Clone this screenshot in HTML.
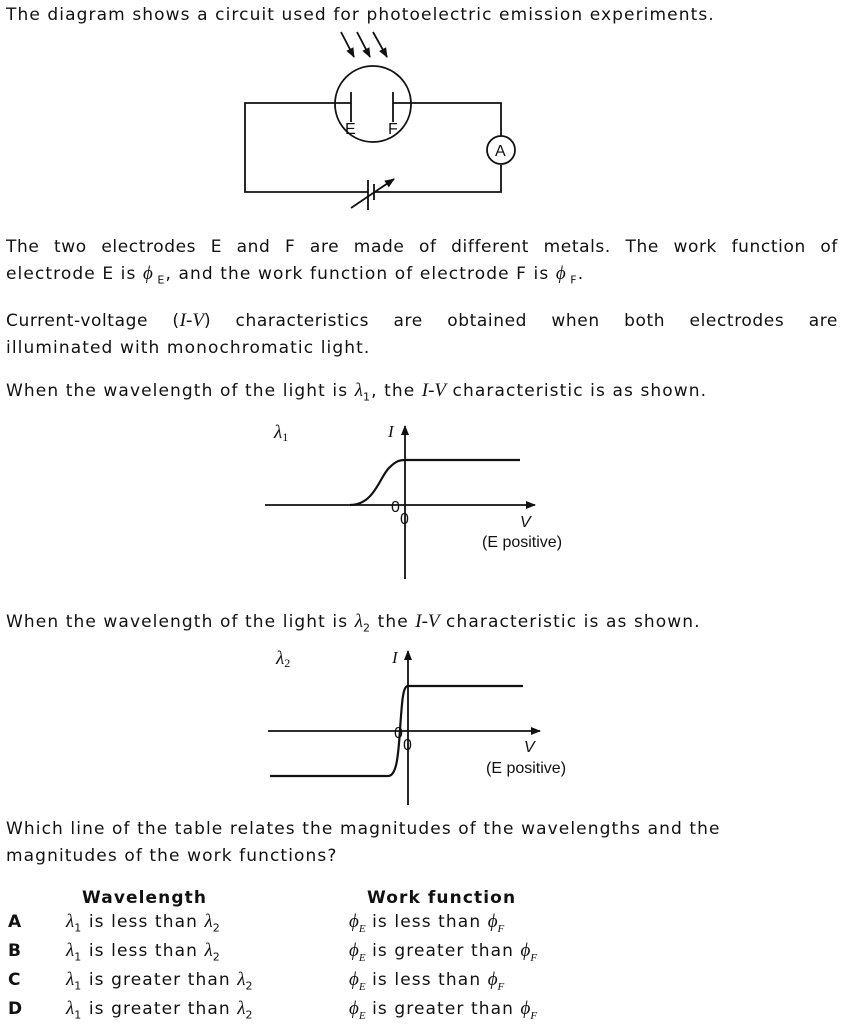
<!DOCTYPE html>
<html><head><meta charset="utf-8"><style>
body{margin:0;width:841px;height:1026px;background:#fff;position:relative;overflow:hidden;font-family:"DejaVu Sans","Liberation Sans",sans-serif;font-size:17px;letter-spacing:1.1px;color:#111}
.t{position:absolute;left:6px;white-space:nowrap;line-height:20px}
.j{width:832px;text-align:justify;text-align-last:justify;white-space:normal;letter-spacing:0.6px}
.i{font-family:"Liberation Serif",serif;font-style:italic;font-size:19px;letter-spacing:0}
b{font-weight:bold}
svg{position:absolute;left:0;top:0;letter-spacing:0}
sub{font-size:11px}
</style></head><body>
<div class="t" style="top:5px">The diagram shows a circuit used for photoelectric emission experiments.</div>
<div class="t j" style="top:237px">The two electrodes E and F are made of different metals. The work function of</div>
<div class="t" style="top:264px">electrode E is <span class="i">ϕ</span><sub> E</sub>, and the work function of electrode F is <span class="i">ϕ</span><sub> F</sub>.</div>
<div class="t j" style="top:311px">Current-voltage (<span class="i">I-V</span>) characteristics are obtained when both electrodes are</div>
<div class="t" style="top:338px">illuminated with monochromatic light.</div>
<div class="t" style="top:381px">When the wavelength of the light is <span class="i">λ</span><sub>1</sub>, the <span class="i">I-V</span> characteristic is as shown.</div>
<div class="t" style="top:612px">When the wavelength of the light is <span class="i">λ</span><sub>2</sub> the <span class="i">I-V</span> characteristic is as shown.</div>
<div class="t" style="top:819px">Which line of the table relates the magnitudes of the wavelengths and the</div>
<div class="t" style="top:846px">magnitudes of the work functions?</div>

<div class="t" style="top:888px;left:82px"><b>Wavelength</b></div>
<div class="t" style="top:888px;left:367px"><b>Work function</b></div>
<div class="t" style="top:912px;left:8px"><b>A</b></div>
<div class="t" style="top:941px;left:8px"><b>B</b></div>
<div class="t" style="top:970px;left:8px"><b>C</b></div>
<div class="t" style="top:999px;left:8px"><b>D</b></div>
<div class="t" style="top:912px;left:66px"><span class="i">λ</span><sub>1</sub> is less than <span class="i">λ</span><sub>2</sub></div>
<div class="t" style="top:941px;left:66px"><span class="i">λ</span><sub>1</sub> is less than <span class="i">λ</span><sub>2</sub></div>
<div class="t" style="top:970px;left:66px"><span class="i">λ</span><sub>1</sub> is greater than <span class="i">λ</span><sub>2</sub></div>
<div class="t" style="top:999px;left:66px"><span class="i">λ</span><sub>1</sub> is greater than <span class="i">λ</span><sub>2</sub></div>
<div class="t" style="top:912px;left:349px"><span class="i">ϕ<sub>E</sub></span> is less than <span class="i">ϕ<sub>F</sub></span></div>
<div class="t" style="top:941px;left:349px"><span class="i">ϕ<sub>E</sub></span> is greater than <span class="i">ϕ<sub>F</sub></span></div>
<div class="t" style="top:970px;left:349px"><span class="i">ϕ<sub>E</sub></span> is less than <span class="i">ϕ<sub>F</sub></span></div>
<div class="t" style="top:999px;left:349px"><span class="i">ϕ<sub>E</sub></span> is greater than <span class="i">ϕ<sub>F</sub></span></div>

<svg width="841" height="1026" viewBox="0 0 841 1026">
<defs><marker id="ah" markerWidth="10" markerHeight="8" refX="9" refY="4" orient="auto" markerUnits="userSpaceOnUse"><path d="M0,0 L10,4 L0,8z" fill="#111"/></marker></defs>
<g stroke="#111" stroke-width="1.8" fill="none">
<circle cx="373" cy="104" r="38"/>
<path d="M335,103 H245 V192 H368 M374,192 H501 V165 M501,136 V103 H411"/>
<circle cx="501" cy="150" r="14"/>
<path d="M351,92 V122 M393,92 V122 M351,103 H335 M393,103 H411"/>
<path d="M368,180 V210 M374,184 V200"/>
<path d="M351,208 L394,179" marker-end="url(#ah)"/>
<path d="M341,32 L354,57" marker-end="url(#ah)"/>
<path d="M357,32 L370,57" marker-end="url(#ah)"/>
<path d="M373,32 L387,57" marker-end="url(#ah)"/>
<path d="M405,579 V426" marker-end="url(#ah)"/>
<path d="M265,505 H535" marker-end="url(#ah)"/>
<path d="M350,505 C375,505 380,475 390,467 C396,461 400,460 405,460 H520" stroke-width="2.2"/>
<path d="M408,805 V651" marker-end="url(#ah)"/>
<path d="M268,731 H540" marker-end="url(#ah)"/>
<path d="M270,776 H388 C396,776 398,760 400,730 C402,700 403,686 408,686 H523" stroke-width="2.2"/>
</g>
<g font-family="Liberation Sans,sans-serif" font-size="16" fill="#111">
<text x="345" y="134">E</text><text x="388" y="134">F</text>
<text x="495" y="156">A</text>
<text x="274" y="438" font-family="Liberation Serif,serif" font-style="italic" font-size="19">λ<tspan font-size="12" dy="3" font-style="normal">1</tspan></text>
<text x="388" y="437" font-family="Liberation Serif,serif" font-style="italic" font-size="17">I</text>
<text x="391" y="512">0</text><text x="400" y="524">0</text>
<text x="520" y="527" font-style="italic">V</text>
<text x="482" y="547">(E positive)</text>
<text x="276" y="664" font-family="Liberation Serif,serif" font-style="italic" font-size="19">λ<tspan font-size="12" dy="3" font-style="normal">2</tspan></text>
<text x="392" y="663" font-family="Liberation Serif,serif" font-style="italic" font-size="17">I</text>
<text x="394" y="738">0</text><text x="403" y="750">0</text>
<text x="524" y="752" font-style="italic">V</text>
<text x="486" y="773">(E positive)</text>
</g>
</svg>
</body></html>
